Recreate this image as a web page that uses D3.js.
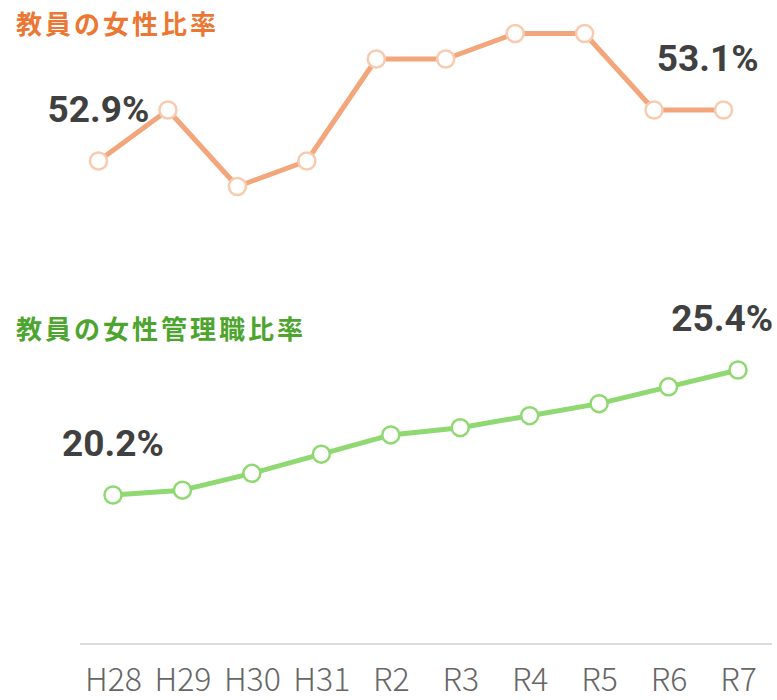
<!DOCTYPE html>
<html><head><meta charset="utf-8">
<script src="https://cdn.jsdelivr.net/npm/d3@7"></script>
<style>body{margin:0;background:#fff}svg{display:block}</style>
</head><body>
<svg id="c" width="777" height="700"></svg>
<script>
const categories = ["H28","H29","H30","H31","R2","R3","R4","R5","R6","R7"];
const teacherFemale = [52.9,53.1,52.8,52.9,53.3,53.3,53.4,53.4,53.1,53.1];
const managerFemale = [20.2,20.4,21.1,21.9,22.7,23.0,23.5,24.0,24.7,25.4];
const titles = ["教員の女性比率","教員の女性管理職比率"];

const svg = d3.select("#c");
const x = d3.scalePoint().domain(categories).range([113,738]);
const yTop = d3.scaleLinear().domain([52.9,53.4]).range([161,33.5]);
const yBot = d3.scaleLinear().domain([20.2,25.4]).range([495,370]);

// axis
const ax = svg.append("g").attr("transform","translate(0,644)")
  .call(d3.axisBottom(x).tickSize(0).tickPadding(0));
ax.select(".domain").attr("d","M80,0H772").attr("stroke","#dcdcdc").attr("stroke-width",2);
ax.selectAll("text").attr("font-family","'Noto Sans CJK JP'").attr("font-weight",300)
  .attr("font-size",32).attr("fill","#666").attr("y",47).attr("dy",0);

function series(vals, y, dx, lineCol, dotCol, title, titleCol, titleY){
  svg.append("text").attr("x",16).attr("y",titleY).text(title)
    .attr("font-family","'Noto Sans CJK JP'").attr("font-weight",700)
    .attr("font-size",26).attr("letter-spacing",3).attr("fill",titleCol);
  const g = svg.append("g").attr("transform",`translate(${dx},0)`);
  const line = d3.line().x((d,i)=>x(categories[i])).y(d=>y(d));
  g.append("path").datum(vals).attr("d",line).attr("fill","none")
    .attr("stroke",lineCol).attr("stroke-width",5).attr("stroke-linejoin","round");
  g.selectAll("circle").data(vals).join("circle")
    .attr("cx",(d,i)=>x(categories[i])).attr("cy",d=>y(d)).attr("r",8.5)
    .attr("fill","#fff").attr("stroke",dotCol).attr("stroke-width",2.5);
  const n = vals.length-1;
  const fmt = v=>v.toFixed(1)+"%";
  g.append("text").attr("x",x(categories[0])).attr("y",y(vals[0])-39)
    .attr("text-anchor","middle").text(fmt(vals[0]));
  g.append("text").attr("x",x(categories[n])+35).attr("y",y(vals[n])-39)
    .attr("text-anchor","end").text(fmt(vals[n]));
  g.selectAll("text").attr("font-family","Roboto").attr("font-weight",700)
    .attr("font-size",37).attr("fill","#404040");
}
series(teacherFemale, yTop, -14.5, "#f3a67c", "#f8cbb0", titles[0], "#ec7734", 34);
series(managerFemale, yBot, 0, "#8fd872", "#8fd872", titles[1], "#4da52f", 339);
</script>
</body></html>
